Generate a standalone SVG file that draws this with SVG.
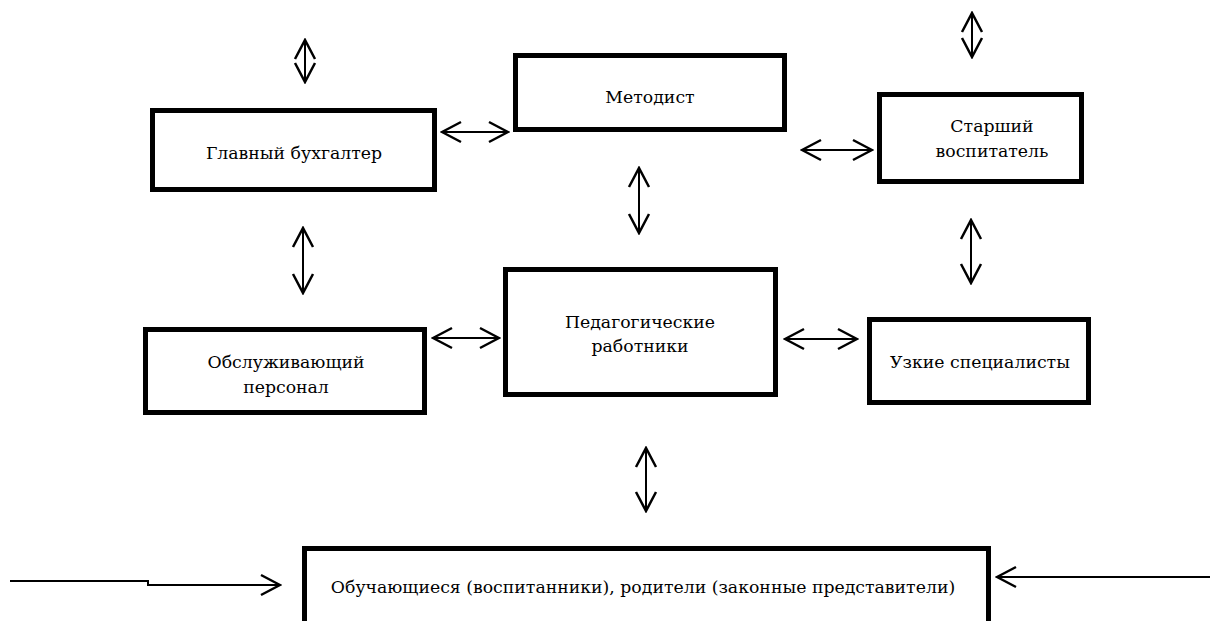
<svg xmlns="http://www.w3.org/2000/svg" width="1215" height="621" viewBox="0 0 1215 621">
<style>
.box{fill:#fff;stroke:#000;stroke-width:5}
.lbl{font-family:'DejaVu Serif','Liberation Serif',serif;font-size:17.3px;fill:#000;text-anchor:middle}
.con{fill:none;stroke:#000;stroke-width:2}
.da{marker-start:url(#ah);marker-end:url(#ah)}
.sa{marker-end:url(#ah)}
</style>
<defs>
<marker id="ah" viewBox="-22 -12 24 24" refX="0" refY="0" markerWidth="24" markerHeight="24" markerUnits="userSpaceOnUse" orient="auto-start-reverse">
<path d="M -19 -10 L 0 0 L -19 10" fill="none" stroke="#000" stroke-width="2.5"/>
</marker>
</defs>
<rect width="1215" height="621" fill="#fff"/>
<g id="connectors">
<line class="con da" x1="305" y1="40" x2="305" y2="82"/>
<line class="con da" x1="972" y1="13" x2="972" y2="57"/>
<line class="con da" x1="639" y1="168" x2="639" y2="233"/>
<line class="con da" x1="971" y1="220" x2="971" y2="283"/>
<line class="con da" x1="303" y1="228" x2="303" y2="293"/>
<line class="con da" x1="646" y1="448" x2="646" y2="511"/>
<line class="con da" x1="442" y1="132" x2="508" y2="132"/>
<line class="con da" x1="802" y1="150" x2="872" y2="150"/>
<line class="con da" x1="785" y1="339" x2="857" y2="339"/>
<line class="con da" x1="433" y1="338" x2="499" y2="338"/>
<polyline class="con sa" points="10,581 148,581 148,585 280,585"/>
<line class="con sa" x1="1210" y1="577" x2="997" y2="577"/>
</g>
<g id="node-glavbuh">
<rect class="box" x="152.5" y="110.5" width="282" height="79"/>
<text class="lbl" x="294" y="159">Главный бухгалтер</text>
</g>
<g id="node-metodist">
<rect class="box" x="515.5" y="55.5" width="269" height="74"/>
<text class="lbl" x="650" y="103">Методист</text>
</g>
<g id="node-starshiy">
<rect class="box" x="879.5" y="94.5" width="202" height="87"/>
<text class="lbl" x="992" y="132">Старший</text>
<text class="lbl" x="992" y="157">воспитатель</text>
</g>
<g id="node-ped">
<rect class="box" x="505.5" y="269.5" width="270" height="125"/>
<text class="lbl" x="640" y="328">Педагогические</text>
<text class="lbl" x="640" y="352">работники</text>
</g>
<g id="node-obsl">
<rect class="box" x="145.5" y="329.5" width="279" height="83"/>
<text class="lbl" x="286" y="368">Обслуживающий</text>
<text class="lbl" x="286" y="393">персонал</text>
</g>
<g id="node-uzkie">
<rect class="box" x="869.5" y="319.5" width="219" height="83"/>
<text class="lbl" x="980" y="368">Узкие специалисты</text>
</g>
<g id="node-obuch">
<rect class="box" x="304.5" y="548.5" width="684" height="80"/>
<text class="lbl" x="643" y="593">Обучающиеся (воспитанники), родители (законные представители)</text>
</g>
</svg>
